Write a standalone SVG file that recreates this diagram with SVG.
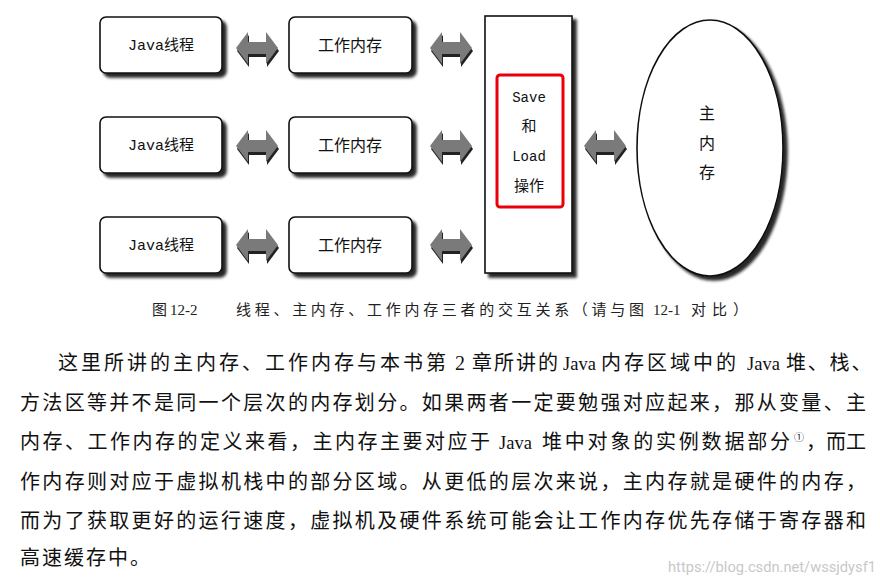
<svg xmlns="http://www.w3.org/2000/svg" width="880" height="586" viewBox="0 0 880 586">
<defs>
<filter id="sh" x="-20%" y="-20%" width="150%" height="150%">
<feGaussianBlur in="SourceAlpha" stdDeviation="1.6"/>
<feOffset dx="4" dy="4" result="b"/>
<feComponentTransfer><feFuncA type="linear" slope="0.85"/></feComponentTransfer>
<feMerge><feMergeNode/><feMergeNode in="SourceGraphic"/></feMerge>
</filter>
<path id="dbl" d="M-21,0 L-9,-16 L-9,-6 L9,-6 L9,-16 L21,0 L9,16 L9,6 L-9,6 L-9,16 Z"/>
</defs>
<style>
.box{fill:#fff;stroke:#111;stroke-width:1.6}
.lbl{font-family:"Liberation Mono","Noto Sans CJK SC",monospace;font-size:15px;fill:#111;text-anchor:middle}
.cn{font-family:"Noto Sans CJK SC",sans-serif;font-size:16px;fill:#111;text-anchor:middle}
.arr-s{fill:#222}
.arr{fill:#7a7a7a}
.cap{font-family:"Liberation Serif","Noto Sans CJK SC",serif;font-size:15px;fill:#222}
.body{font-family:"Liberation Serif","Noto Sans CJK SC",serif;font-size:20px;fill:#111}
.lat{font-size:18.5px}
</style>
<rect width="880" height="586" fill="#fff"/>

<g id="connectors">
<g transform="translate(257,48)"><use href="#dbl" class="arr-s" transform="translate(1,3)"/><use href="#dbl" class="arr"/></g>
<g transform="translate(451,48)"><use href="#dbl" class="arr-s" transform="translate(1,3)"/><use href="#dbl" class="arr"/></g>
<g transform="translate(257,146)"><use href="#dbl" class="arr-s" transform="translate(1,3)"/><use href="#dbl" class="arr"/></g>
<g transform="translate(451,146)"><use href="#dbl" class="arr-s" transform="translate(1,3)"/><use href="#dbl" class="arr"/></g>
<g transform="translate(257,245)"><use href="#dbl" class="arr-s" transform="translate(1,3)"/><use href="#dbl" class="arr"/></g>
<g transform="translate(451,245)"><use href="#dbl" class="arr-s" transform="translate(1,3)"/><use href="#dbl" class="arr"/></g>
<g transform="translate(605,146)"><use href="#dbl" class="arr-s" transform="translate(1,3)"/><use href="#dbl" class="arr"/></g>
</g>

<g id="thread1"><rect class="box" x="100" y="17" width="122" height="56" rx="6" filter="url(#sh)"/><text class="lbl" x="161" y="50">Java线程</text></g>
<g id="thread2"><rect class="box" x="100" y="117" width="122" height="56" rx="6" filter="url(#sh)"/><text class="lbl" x="161" y="150">Java线程</text></g>
<g id="thread3"><rect class="box" x="100" y="217" width="122" height="56" rx="6" filter="url(#sh)"/><text class="lbl" x="161" y="250">Java线程</text></g>

<g id="work1"><rect class="box" x="289" y="17" width="123" height="56" rx="6" filter="url(#sh)"/><text class="cn" x="350" y="51">工作内存</text></g>
<g id="work2"><rect class="box" x="289" y="117" width="123" height="56" rx="6" filter="url(#sh)"/><text class="cn" x="350" y="151">工作内存</text></g>
<g id="work3"><rect class="box" x="289" y="217" width="123" height="56" rx="6" filter="url(#sh)"/><text class="cn" x="350" y="251">工作内存</text></g>

<g id="saveload">
<rect class="box" x="485" y="16" width="87" height="257" filter="url(#sh)"/>
<rect x="497" y="75" width="66" height="132" rx="3" fill="none" stroke="#e8000b" stroke-width="3"/>
<text class="lbl" x="529" y="102" style="font-size:14px">Save</text>
<text class="cn" x="529" y="131" style="font-size:15px">和</text>
<text class="lbl" x="529" y="161" style="font-size:14px">Load</text>
<text class="cn" x="529" y="191" style="font-size:15px">操作</text>
</g>

<g id="mainmem">
<ellipse class="box" cx="710" cy="148" rx="73" ry="128" filter="url(#sh)"/>
<text class="cn" x="707" y="119">主</text>
<text class="cn" x="707" y="149">内</text>
<text class="cn" x="707" y="178">存</text>
</g>

<text class="cap" y="315"><tspan x="152">图</tspan><tspan x="170">12-2</tspan></text>
<text class="cap" x="236" y="315" textLength="408" lengthAdjust="spacing">线程、主内存、工作内存三者的交互关系（请与图</text>
<text class="cap" y="315"><tspan x="653">12-1</tspan></text>
<text class="cap" x="691" y="315" textLength="57" lengthAdjust="spacing">对比）</text>

<text class="body" y="370"><tspan x="58" letter-spacing="3">这里所讲的主内存、工作内存与本书第</tspan><tspan x="455">2</tspan><tspan x="472" letter-spacing="2">章所讲的</tspan><tspan class="lat" x="563">Java</tspan><tspan x="601" letter-spacing="3">内存区域中的</tspan><tspan class="lat" x="747">Java</tspan><tspan x="786" letter-spacing="1.8">堆、栈、</tspan></text>
<text class="body" x="20" y="410" textLength="846" lengthAdjust="spacing">方法区等并不是同一个层次的内存划分。如果两者一定要勉强对应起来，那从变量、主</text>
<text class="body" y="449"><tspan x="20" letter-spacing="2.5">内存、工作内存的定义来看，主内存主要对应于</tspan><tspan class="lat" x="499">Java</tspan><tspan x="542" letter-spacing="2.8">堆中对象的实例数据部分</tspan><tspan x="794" font-size="10" dy="-8">①</tspan><tspan x="806" dy="8" letter-spacing="0">，而工</tspan></text>
<text class="body" x="20" y="489" textLength="846" lengthAdjust="spacing">作内存则对应于虚拟机栈中的部分区域。从更低的层次来说，主内存就是硬件的内存，</text>
<text class="body" x="20" y="528" textLength="846" lengthAdjust="spacing">而为了获取更好的运行速度，虚拟机及硬件系统可能会让工作内存优先存储于寄存器和</text>
<text class="body" x="20" y="565" textLength="130" lengthAdjust="spacing">高速缓存中。</text>

<text x="668" y="572" font-family="Roboto,'Liberation Sans',sans-serif" font-size="14" fill="#c8c8c8" textLength="208" lengthAdjust="spacingAndGlyphs">https://blog.csdn.net/wssjdysf1</text>
</svg>
